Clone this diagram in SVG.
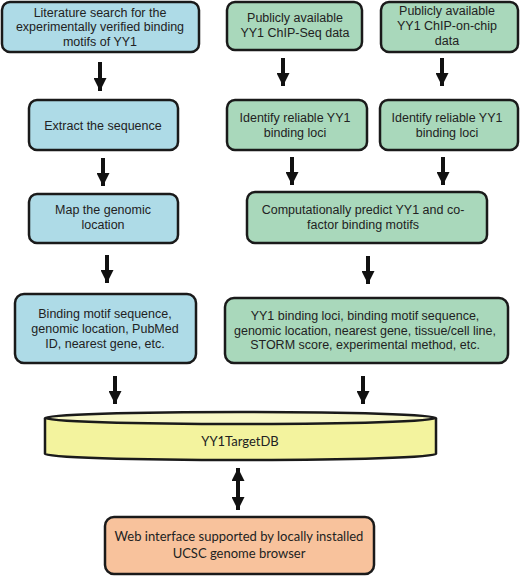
<svg xmlns="http://www.w3.org/2000/svg" width="520" height="576" viewBox="0 0 520 576">
<defs>
<style>
.box{stroke:#1a1a1a;stroke-width:2.5}
.blue{fill:#aedbe7}
.green{fill:#a9d8bb}
.orange{fill:#f8c29c}
.t{font-family:"Liberation Sans",Arial,sans-serif;font-size:12.5px;fill:#222;text-anchor:middle}
.c{font-family:Lato,"Open Sans",sans-serif;font-size:13px;fill:#222;text-anchor:middle}
.arr{stroke:#111;stroke-width:4;fill:none}
</style>
<marker id="ah" viewBox="0 0 10 10" refX="10" refY="5" markerUnits="userSpaceOnUse" markerWidth="13" markerHeight="13" orient="auto-start-reverse">
<path d="M0,0 L10,5 L0,10 z" fill="#111"/>
</marker>
</defs>
<rect width="520" height="576" fill="#fff"/>

<g id="n1"><rect class="box blue" x="2" y="2" width="197" height="50" rx="8"/>
<text class="t" x="100" y="16.5">Literature search for the</text>
<text class="t" x="100" y="31">experimentally verified binding</text>
<text class="t" x="100" y="45.5">motifs of YY1</text></g>

<g id="n2"><rect class="box blue" x="29" y="100" width="149" height="50" rx="8"/>
<text class="t" x="103" y="129.5">Extract the sequence</text></g>

<g id="n3"><rect class="box blue" x="29" y="194" width="149" height="49" rx="8"/>
<text class="t" x="103" y="213.5">Map the genomic</text>
<text class="t" x="103" y="228.5">location</text></g>

<g id="n4"><rect class="box blue" x="15" y="294" width="181" height="69" rx="9"/>
<text class="t" x="105" y="317.5">Binding motif sequence,</text>
<text class="t" x="105" y="332.5">genomic location, PubMed</text>
<text class="t" x="105" y="347.5">ID, nearest gene, etc.</text></g>

<g id="g1"><rect class="box green" x="227" y="2" width="135" height="48" rx="8"/>
<text class="t" x="295" y="21.5">Publicly available</text>
<text class="t" x="295" y="37">YY1 ChIP-Seq data</text></g>

<g id="g2"><rect class="box green" x="381" y="2" width="137" height="50" rx="8"/>
<text class="t" x="447" y="14.5">Publicly available</text>
<text class="t" x="447" y="29.5">YY1 ChIP-on-chip</text>
<text class="t" x="447" y="45">data</text></g>

<g id="g3"><rect class="box green" x="227" y="100" width="140" height="50" rx="8"/>
<text class="t" x="295" y="121.5">Identify reliable YY1</text>
<text class="t" x="295" y="136.5">binding loci</text></g>

<g id="g4"><rect class="box green" x="380" y="100" width="138" height="50" rx="8"/>
<text class="t" x="447" y="121.5">Identify reliable YY1</text>
<text class="t" x="447" y="136.5">binding loci</text></g>

<g id="g5"><rect class="box green" x="247" y="192" width="240" height="51" rx="8"/>
<text class="t" x="363" y="214">Computationally predict YY1 and co-</text>
<text class="t" x="363" y="228.5">factor binding motifs</text></g>

<g id="g6"><rect class="box green" x="225" y="298" width="283" height="65" rx="9"/>
<text class="t" x="365" y="319.5">YY1 binding loci, binding motif sequence,</text>
<text class="t" x="365" y="334.5">genomic location, nearest gene, tissue/cell line,</text>
<text class="t" x="365" y="349">STORM score, experimental method, etc.</text></g>

<g id="db">
<path d="M45,418 L45,454 A195.5,6 0 0 0 436,454 L436,418" fill="#f3f39e" stroke="#1a1a1a" stroke-width="2.5"/>
<ellipse cx="240.5" cy="418" rx="195.5" ry="6" fill="#f7f7c6" stroke="#1a1a1a" stroke-width="2.5"/>
<text class="c" x="240" y="445.5">YY1TargetDB</text></g>

<g id="web"><rect class="box orange" x="105" y="517" width="269" height="57" rx="9"/>
<text class="c" x="239" y="541">Web interface supported by locally installed</text>
<text class="c" x="239" y="558">UCSC genome browser</text></g>

<g id="connectors">
<line class="arr" x1="100" y1="62" x2="100" y2="91" marker-end="url(#ah)"/>
<line class="arr" x1="103" y1="158" x2="103" y2="186" marker-end="url(#ah)"/>
<line class="arr" x1="107" y1="255" x2="107" y2="283" marker-end="url(#ah)"/>
<line class="arr" x1="115" y1="376" x2="115" y2="404" marker-end="url(#ah)"/>
<line class="arr" x1="283" y1="58" x2="283" y2="86" marker-end="url(#ah)"/>
<line class="arr" x1="442" y1="58" x2="442" y2="86" marker-end="url(#ah)"/>
<line class="arr" x1="292" y1="157" x2="292" y2="185" marker-end="url(#ah)"/>
<line class="arr" x1="443" y1="157" x2="443" y2="185" marker-end="url(#ah)"/>
<line class="arr" x1="368" y1="256" x2="368" y2="284" marker-end="url(#ah)"/>
<line class="arr" x1="363" y1="376" x2="363" y2="404" marker-end="url(#ah)"/>
<line class="arr" x1="238" y1="468" x2="238" y2="510" marker-start="url(#ah)" marker-end="url(#ah)"/>
</g>
</svg>
